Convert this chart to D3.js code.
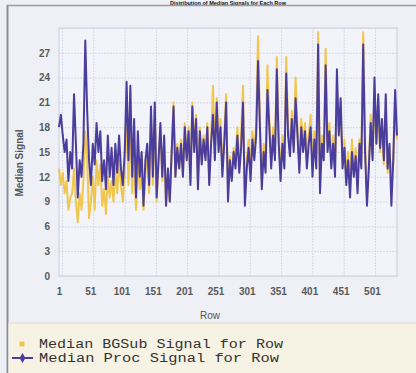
<!DOCTYPE html>
<html><head><meta charset="utf-8">
<script src="https://cdn.jsdelivr.net/npm/d3@7"></script>
<style>html,body{margin:0;padding:0;background:#eef0f6;overflow:hidden}</style>
</head><body>
<svg id="c" width="416" height="373"></svg>
<script>
const title = "Distribution of Median Signals for Each Row";
const seriesNames = ["Median BGSub Signal for Row", "Median Proc Signal for Row"];
const xTickLabels = [1, 51, 101, 151, 201, 251, 301, 351, 401, 451, 501];
const yTickLabels = [0, 3, 6, 9, 12, 15, 18, 21, 24, 27];
const rowStep = 3;
const procSignal = [
18,19.5,17,15,16.5,11.5,15,13,22,16,
9.5,14,12,16,28.5,20,14,11,16,13.5,
18.5,15,17.5,11.5,14,10.5,17,12,15.5,11,
16,12.5,17,13,11,15,23.5,14,23,12,
19,9.5,17.5,12,15,8.5,14,16,11,20.5,
12,21,9.5,14,18.5,12,17,8.5,13,9,
15,20.5,12,15.5,13,16,12,18,14,17.5,
11,20.5,15,19,10.5,17.5,13.5,16.5,14,18,
11,16,19.5,14,21,15,18,12,16,21,
9,14,11.5,15,13,17,12.5,15.5,21,8.5,
13,15.5,11.5,16.5,14,17,26,18,10.5,15,
12.5,22.5,18,13,17,14,25,16,11.5,16,
13,24.5,17,14.5,19,15,21.5,17,12.5,18,
15,17.5,13,16,18,12,16.5,13,28,10,
16,14,25.5,15,17.5,13,16,12,25,17,
21.5,13,15.5,11,14,9.5,15,12,14.5,10,
16,13,28,15,8.5,13,18.5,14,24,16,
22,15.5,19,14,22,13,16,8.5,14,22.5,
17];
const bgsubSignal = [
13,11,12.5,10,11.5,8,9.5,10,13,9,
6.5,10,8,11.5,17.5,14,7,9,12,8,
14,11,13.5,8.5,10.5,7.5,12,9.5,11.5,9,
13,10,14,11,9,12.5,20,11,19,10,
16,8,14,10.5,13,8,12.5,14.5,10,19,
11,20,9,13.5,18,11.5,16.5,8.5,12.5,9,
15,21,12,16,13,16.5,12.5,18.5,14.5,18,
11.5,21,15.5,19.5,11,18,14,17,14.5,18.5,
11.5,16.5,23,15,21.5,16,19,13,17,22,
10,14.5,12,15.5,14.5,18,13,17,23,9,
14,16.5,12.5,17.5,15,18.5,29,19,11.5,16,
13.5,25.5,19,14,18,15,26.5,17,12.5,17,
14,26.5,18,15.5,20,16,24,18,13.5,19,
16,18.5,14,17,19.5,13,17.5,14,29.5,11,
17,15,27.5,16,18.5,14,17,13,22,17.5,
20,14,16.5,12,15,10.5,16.5,13,15.5,11,
16.5,14,29.5,16,9.5,13.5,19.5,14.5,22,16,
20,15,18,13.5,20,12.5,15,12.5,13.5,20,
16.5];

const rows = procSignal.map((_, i) => 1 + i * rowStep);
const svg = d3.select("#c");
const W = 416, H = 373;
const L = 59, R = 397, T = 28, B = 276;

const x = d3.scaleLinear().domain([1, rows[rows.length - 1]]).range([L, R]);
const y = d3.scaleLinear().domain([0, 30]).range([B, T]);

// frame
svg.append("rect").attr("x", 0).attr("y", 0).attr("width", W).attr("height", H).attr("fill", "#eef0f6");
svg.append("text").attr("x", 228).attr("y", 4.5).attr("text-anchor", "middle")
  .attr("font-family", "Liberation Sans, Arial, sans-serif")
  .attr("font-weight", "bold").attr("font-size", 5.5).attr("fill", "#111").text(title);
svg.append("line").attr("x1", 7).attr("x2", W).attr("y1", 5.5).attr("y2", 5.5).attr("stroke", "#9a9ca4").attr("stroke-width", 1.5);
svg.append("line").attr("x1", 7.5).attr("x2", 7.5).attr("y1", 5).attr("y2", H).attr("stroke", "#8c8e96").attr("stroke-width", 2);

// plot background
svg.append("rect").attr("x", L).attr("y", T).attr("width", R - L).attr("height", B - T)
  .attr("fill", "#f2f4fa").attr("stroke", "#c9cdd9");

// gridlines
const grid = svg.append("g");
grid.selectAll("line.h").data(yTickLabels.concat([30])).join("line")
  .attr("x1", L).attr("x2", R).attr("y1", d => y(d) + 0.5).attr("y2", d => y(d) + 0.5)
  .attr("stroke", "#d3d7e3").attr("stroke-dasharray", "2,1");
grid.selectAll("line.v").data(xTickLabels).join("line")
  .attr("x1", d => x(d) + 3.5).attr("x2", d => x(d) + 3.5).attr("y1", T).attr("y2", B)
  .attr("stroke", "#d3d7e3").attr("stroke-dasharray", "2,1");

// axes
const yAxis = d3.axisLeft(y).tickValues(yTickLabels).tickSize(0).tickPadding(9);
const gy = svg.append("g").attr("transform", `translate(${L},0)`).call(yAxis);
gy.select(".domain").remove();
gy.selectAll("text").attr("font-family", "Liberation Sans, Arial, sans-serif").attr("font-size", 10)
  .attr("font-weight", "bold").attr("fill", "#5a5a5a");

const xAxis = d3.axisBottom(x).tickValues(xTickLabels).tickSize(0).tickPadding(12);
const gx = svg.append("g").attr("transform", `translate(0,${B})`).call(xAxis);
gx.select(".domain").remove();
gx.selectAll("text").attr("font-family", "Liberation Sans, Arial, sans-serif").attr("font-size", 10)
  .attr("font-weight", "bold").attr("fill", "#5a5a5a");

svg.append("text").attr("x", 210).attr("y", 319).attr("text-anchor", "middle")
  .attr("font-family", "Liberation Sans, Arial, sans-serif").attr("font-size", 10).attr("fill", "#555").text("Row");
svg.append("text").attr("transform", "translate(23,163) rotate(-90)").attr("text-anchor", "middle")
  .attr("font-family", "Liberation Sans, Arial, sans-serif").attr("font-size", 10).attr("font-weight", "bold")
  .attr("fill", "#555").text("Median Signal");

// series
const line = d3.line().x((d, i) => x(rows[i])).y(d => y(d));
svg.append("path").datum(bgsubSignal).attr("d", line).attr("fill", "none")
  .attr("stroke", "#f1c64e").attr("stroke-width", 2).attr("stroke-linejoin", "round");
svg.append("path").datum(procSignal).attr("d", line).attr("fill", "none")
  .attr("stroke", "#4b3d9c").attr("stroke-width", 2).attr("stroke-linejoin", "round");

// legend
svg.append("rect").attr("x", 8.5).attr("y", 323).attr("width", W - 8).attr("height", H - 323).attr("fill", "#f6f2e4");
svg.append("line").attr("x1", 8.5).attr("x2", W).attr("y1", 323).attr("y2", 323).attr("stroke", "#dcd8cc");
const lg = svg.append("g");
lg.append("rect").attr("x", 19.5).attr("y", 341.5).attr("width", 5).attr("height", 5).attr("fill", "#f1c64e");
lg.append("line").attr("x1", 12).attr("x2", 33).attr("y1", 358).attr("y2", 358).attr("stroke", "#4b3d9c").attr("stroke-width", 2);
lg.append("path").attr("d", d3.symbol().type(d3.symbolDiamond).size(30)()).attr("transform", "translate(22.5,358)").attr("fill", "#4b3d9c");
lg.selectAll("text").data(seriesNames).join("text")
  .attr("x", 39).attr("y", (d, i) => 348 + i * 14)
  .attr("font-family", "Liberation Mono, Courier New, monospace").attr("font-size", 12)
  .attr("fill", "#333").attr("textLength", (d, i) => i === 0 ? 244 : 240).attr("lengthAdjust", "spacingAndGlyphs")
  .text(d => d);
</script>
</body></html>
